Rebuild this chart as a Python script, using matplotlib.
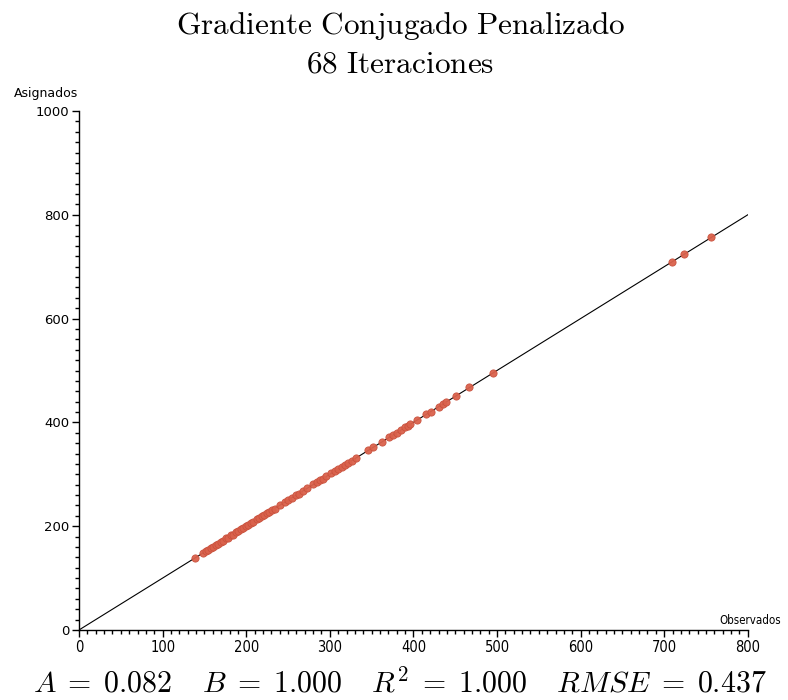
import matplotlib.pyplot as plt
from matplotlib.ticker import MultipleLocator

plt.rcParams['mathtext.fontset'] = 'cm'

# observed vs. assigned values
observados = [139, 148, 152, 154, 158, 160, 164, 166, 170, 172, 176, 178, 182, 184, 188,
              190, 194, 196, 200, 202, 206, 208, 213, 215, 219, 221, 225, 227, 231, 234,
              240, 246, 250, 255, 259, 263, 268, 273, 280, 285, 288, 292, 296, 302, 306,
              310, 314, 318, 322, 326, 331, 346, 352, 363, 371, 375, 380, 385, 390, 393,
              396, 404, 415, 421, 430, 435, 439, 451, 467, 495, 709, 724, 756]
asignados = [139.4, 147.7, 152.6, 153.9, 158.4, 159.7, 164.6, 165.9, 170.4, 171.7, 176.6,
             177.9, 182.4, 183.7, 188.6, 189.9, 194.4, 195.7, 200.6, 201.9, 206.4, 207.7,
             213.6, 214.9, 219.4, 220.7, 225.6, 226.9, 231.4, 233.7, 240.6, 245.9, 250.4,
             254.7, 259.6, 262.9, 268.4, 272.7, 280.6, 284.9, 288.4, 291.7, 296.6, 301.9,
             306.4, 309.7, 314.6, 317.9, 322.4, 325.7, 331.6, 345.9, 352.4, 362.7, 371.6,
             374.9, 380.4, 384.7, 390.6, 392.9, 396.4, 403.7, 415.6, 420.9, 430.4, 434.7,
             439.6, 450.9, 467.4, 494.7, 709.6, 723.9, 756.4]
coef_a = 0.082
coef_b = 1.000

fig = plt.figure(figsize=(7.88, 7.0), dpi=100)
ax = fig.add_axes([0.1003, 0.1, 0.8487, 0.7414])

ax.plot([0, 800], [coef_a, coef_a + coef_b * 800], color='black', lw=0.8, zorder=1)
ax.plot(observados, asignados, 'o', ms=5.2, mfc='#da624c', mec='#c9503c', mew=0.6,
        alpha=0.95, zorder=2)

ax.set_xlim(0, 800)
ax.set_ylim(0, 1000)
ax.spines['top'].set_visible(False)
ax.spines['right'].set_visible(False)
ax.spines['left'].set_linewidth(1.0)
ax.spines['bottom'].set_linewidth(1.0)

ax.xaxis.set_major_locator(MultipleLocator(100))
ax.xaxis.set_minor_locator(MultipleLocator(10))
ax.yaxis.set_major_locator(MultipleLocator(200))
ax.yaxis.set_minor_locator(MultipleLocator(20))
ax.tick_params(which='major', length=5, width=1, direction='out', pad=2)
ax.tick_params(which='minor', length=3, width=1, direction='out')
ax.tick_params(axis='y', labelsize=9.5)
for lab in ax.get_xticklabels():
    lab.set_fontsize(10.5)
    lab.set_fontstretch('condensed')

fig.text(0.059, 0.867, 'Asignados', ha='center', va='center', fontsize=9)
fig.text(0.952, 0.114, 'Observados', ha='center', va='center', fontsize=8.3,
         fontstretch='condensed')

fig.text(0.508, 0.963, r'$\mathrm{Gradiente\ Conjugado\ Penalizado}$', ha='center',
         va='center', fontsize=22.5)
fig.text(0.508, 0.909, r'$\mathrm{68\ Iteraciones}$', ha='center', va='center', fontsize=22.5)

fig.text(0.508, 0.024,
         r'$A \;=\; 0.082 \quad\, B \;=\; 1.000 \quad\, R^2 \;=\; 1.000 \quad\, RMSE \;=\; 0.437$',
         ha='center', va='center', fontsize=21.5)

fig.savefig('out.png', dpi=100, facecolor='white')
